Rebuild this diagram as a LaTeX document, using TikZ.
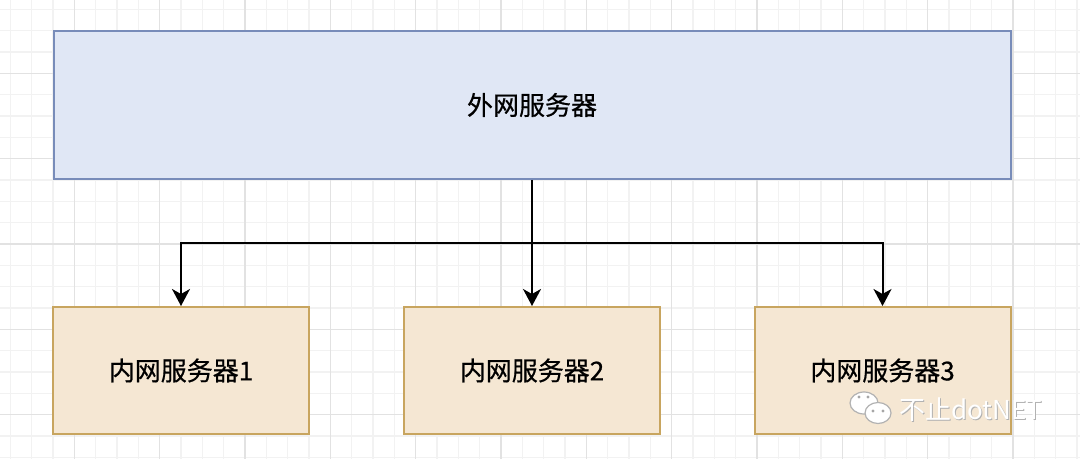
\documentclass[tikz,border=0pt]{standalone}
\usepackage{fontspec}
\setmainfont{Noto Sans CJK SC}
\newfontfamily\boxfont{Noto Sans CJK SC}[FakeBold=0.6]
\usetikzlibrary{arrows.meta}
\definecolor{outerfill}{RGB}{224,231,245}
\definecolor{outerline}{RGB}{120,140,185}
\definecolor{innerfill}{RGB}{245,231,211}
\definecolor{innerline}{RGB}{200,165,95}
\definecolor{gridminor}{RGB}{242,242,242}
\definecolor{gridmajor}{RGB}{226,226,226}
\tikzset{
  outerbox/.style={draw=outerline, fill=outerfill, line width=1pt, minimum width=478.5pt, minimum height=74pt, font=\boxfont\fontsize{13}{15}\selectfont},
  innerbox/.style={draw=innerline, fill=innerfill, line width=1pt, minimum width=128pt, minimum height=63.5pt, font=\boxfont\fontsize{13}{15}\selectfont},
  arr/.style={-{Stealth[length=8.5pt,width=9pt,inset=2.5pt]}, line width=1pt}
}

\begin{document}
\begin{tikzpicture}[x=0.5pt,y=-0.5pt]
		\useasboundingbox[fill=white] (0,0) rectangle (1080,459);
		% grid
		\foreach \i in {0,...,51} {
			\draw[gridminor, line width=0.6pt] ({-10.9+21.33*\i},0)--({-10.9+21.33*\i},459);
		}
		\foreach \j in {0,...,22} {
			\draw[gridminor, line width=0.6pt] (0,{-12+21.33*\j})--(1080,{-12+21.33*\j});
		}
		\foreach \i in {0,...,13} {
			\draw[gridmajor, line width=0.6pt] ({-10.9+85.33*\i},0)--({-10.9+85.33*\i},459);
		}
		\foreach \j in {0,...,6} {
			\draw[gridmajor, line width=0.6pt] (0,{-12+85.33*\j})--(1080,{-12+85.33*\j});
		}
		
		\node (outer) [outerbox] at (532,105) {外网服务器};
		\node (inner1) [innerbox] at (181,370.5) {内网服务器1};
		\node (inner2) [innerbox] at (532,370.5) {内网服务器2};
		\node (inner3) [innerbox] at (882.5,370.5) {内网服务器3};
		
		\coordinate (split) at (outer.south |- 0,243);
		\draw[arr] (outer.south)--(inner2.north);
		\draw[arr] (split)-|(inner1.north);
		\draw[arr] (split)-|(inner3.north);
		
		% watermark
		\draw[gray!60, fill=white, line width=0.6pt] (864,403) ellipse (14 and 11);
		\draw[gray!60, fill=white, line width=0.6pt] (878,413) ellipse (13 and 10.5);
		\foreach \e in {(859,397),(868,397),(873,411),(883,411)} {
			\fill[gray!70] \e circle (1.6);
		}
		\node (mark) [gray!60, font=\fontsize{13}{15}\selectfont, anchor=west] at (893.5,411) {不止dotNET};
		\node (marktop) [white, font=\fontsize{13}{15}\selectfont, anchor=west] at (892.5,410) {不止dotNET};
	\end{tikzpicture}
\end{document}
